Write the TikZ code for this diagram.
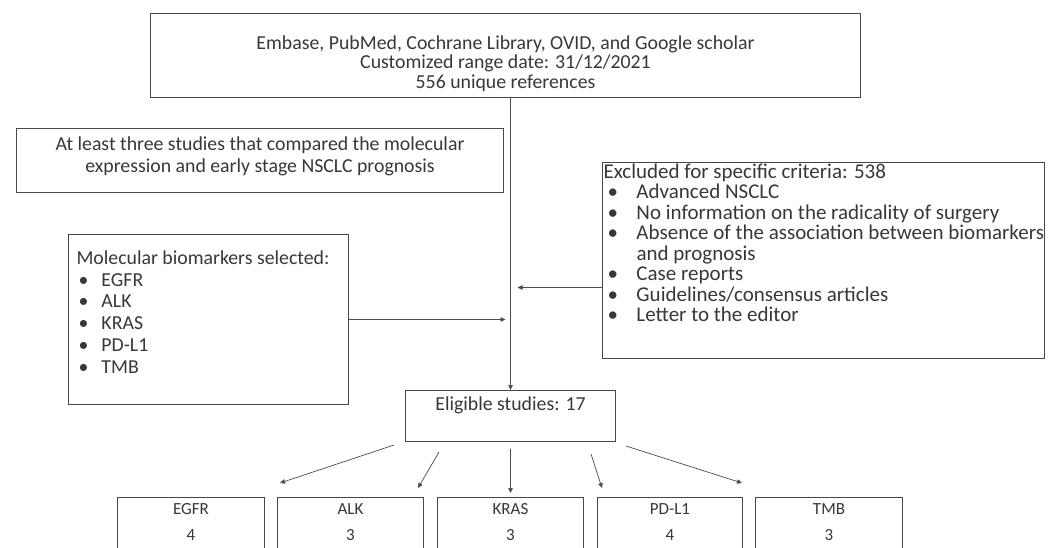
\documentclass[tikz,border=0pt]{standalone}
\usepackage{fontspec}
\setmainfont{Carlito}
\usetikzlibrary{arrows.meta, positioning}

\tikzset{
  box/.style={draw=black!72, line width=1pt, inner sep=0pt, anchor=north west, text=black!78},
  link/.style={draw=black!70, line width=0.7pt, -{Triangle[length=5pt,width=4.5pt]}},
}
\newcommand{\itm}[3][33pt]{\makebox[#1][l]{\hspace{#2}\textbullet}#3}

\begin{document}
\begin{tikzpicture}[font=\fontsize{19.8}{19.4}\selectfont]
   \clip (0pt,0pt) rectangle (1049pt,-547pt);
   \fill[white] (0pt,0pt) rectangle (1049pt,-547pt);

   \node (db)[box] at (150pt,-13pt) {\parbox[c][84pt][t]{710pt}{\centering\vspace*{22pt}%
      Embase, PubMed, Cochrane Library, OVID, and Google scholar\\
      Customized range date: 31/12/2021\\
      556 unique references}};
   \node (crit)[box] at (16pt,-128pt) {\parbox[c][64pt][t]{487pt}{\centering\fontsize{19.8}{22}\selectfont\vspace*{8pt}%
      At least three studies that compared the molecular\\
      expression and early stage NSCLC prognosis}};
   \node (bio)[box] at (68pt,-234pt) {\parbox[c][170pt][t]{280pt}{\raggedright\fontsize{19.8}{21.8}\selectfont\vspace*{16pt}%
      \hspace*{8pt}Molecular biomarkers selected:\\
      \hspace*{8pt}\itm[25pt]{2pt}{EGFR}\\
      \hspace*{8pt}\itm[25pt]{2pt}{ALK}\\
      \hspace*{8pt}\itm[25pt]{2pt}{KRAS}\\
      \hspace*{8pt}\itm[25pt]{2pt}{PD-L1}\\
      \hspace*{8pt}\itm[25pt]{2pt}{TMB}}};
   \node (excl)[box] at (602pt,-162pt) {\parbox[c][196pt][t]{442pt}{\raggedright\fontsize{21}{20.5}\selectfont\vspace*{1pt}%
      \hspace*{1pt}Excluded for specific criteria: 538\\
      \hspace*{1pt}\itm{4pt}{Advanced NSCLC}\\
      \hspace*{1pt}\itm{4pt}{No information on the radicality of surgery}\\
      \hspace*{1pt}\itm{4pt}{Absence of the association between biomarkers}\\
      \hspace*{34pt}and prognosis\\
      \hspace*{1pt}\itm{4pt}{Case reports}\\
      \hspace*{1pt}\itm{4pt}{Guidelines/consensus articles}\\
      \hspace*{1pt}\itm{4pt}{Letter to the editor}}};
   \node (elig)[box] at (405pt,-390pt) {\parbox[c][51pt][t]{210pt}{\centering\vspace*{6pt}%
      Eligible studies: 17}};

   % studies per biomarker
   \node (egfr)[box] at (117pt,-497pt) {\parbox[c][70pt][t]{147pt}{\centering\fontsize{17}{20}\selectfont\vspace*{6pt}EGFR\\[6pt] 4}};
   \node (alk)[box] at (277pt,-497pt) {\parbox[c][70pt][t]{146pt}{\centering\fontsize{17}{20}\selectfont\vspace*{6pt}ALK\\[6pt] 3}};
   \node (kras)[box] at (437pt,-497pt) {\parbox[c][70pt][t]{146pt}{\centering\fontsize{17}{20}\selectfont\vspace*{6pt}KRAS\\[6pt] 3}};
   \node (pdl)[box] at (597pt,-497pt) {\parbox[c][70pt][t]{145pt}{\centering\fontsize{17}{20}\selectfont\vspace*{6pt}PD-L1\\[6pt] 4}};
   \node (tmb)[box] at (755pt,-497pt) {\parbox[c][70pt][t]{147pt}{\centering\fontsize{17}{20}\selectfont\vspace*{6pt}TMB\\[6pt] 3}};

   \draw[link] (elig.north |- db.south) -- (elig.north);
   \draw[link] (bio.east) -- ([xshift=-5pt]bio.east -| elig.north);
   \draw[link] ([yshift=-27pt]excl.west) -- ([xshift=7pt,yshift=-27pt]excl.west -| elig.north);

   \draw[link] ([shift={(-11pt,-3pt)}]elig.south west) -- ([shift={(15pt,14pt)}]egfr.north east);
   \draw[link] ([shift={(34pt,-10pt)}]elig.south west) -- ([shift={(-6pt,9pt)}]alk.north east);
   \draw[link] ([yshift=-7pt]elig.south) -- ([yshift=4pt]kras.north);
   \draw[link] ([shift={(-25pt,-12pt)}]elig.south east) -- ([shift={(5pt,9pt)}]pdl.north west);
   \draw[link] ([shift={(10pt,-4pt)}]elig.south east) -- ([shift={(-13pt,14pt)}]tmb.north west);
\end{tikzpicture}
\end{document}
